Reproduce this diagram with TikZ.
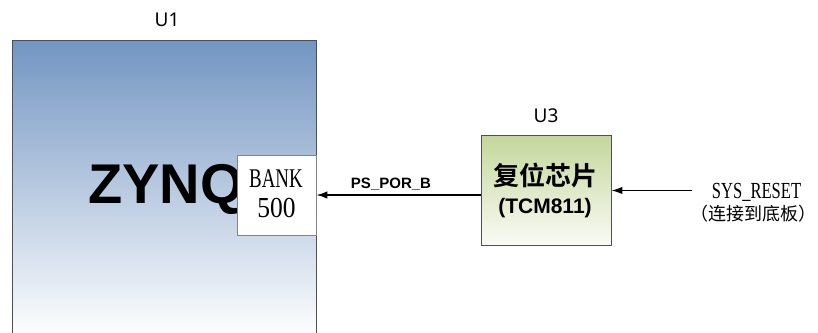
\documentclass[tikz,border=0pt]{standalone}
\usepackage{fontspec}
\setmainfont{Liberation Serif}
\setsansfont{Liberation Sans}
\newfontfamily\cjkfont{Noto Sans CJK SC}[BoldFont={* Bold}]
\newfontfamily\lblfont{Noto Sans}
\usetikzlibrary{positioning,arrows.meta}
\definecolor{zynqtop}{RGB}{114,149,194}
\definecolor{resettop}{RGB}{196,215,155}
\definecolor{resetbot}{RGB}{250,251,245}
\definecolor{boxline}{RGB}{80,80,80}
\tikzstyle{chip}=[draw=boxline, line width=0.9pt, inner sep=0pt]
\tikzstyle{bank}=[draw=boxline!70, fill=white, line width=0.8pt, minimum width=79pt, minimum height=80pt, inner sep=0pt]
\tikzstyle{sig}=[->, line width=1.4pt]
\tikzstyle{lbl}=[font=\lblfont\fontsize{19}{19}\selectfont, inner sep=0pt]

\begin{document}
\begin{tikzpicture}[x=1pt,y=-1pt,>={Latex[length=11pt,width=7.5pt]}]
\useasboundingbox (0,0) rectangle (818,332);

\node[chip, top color=zynqtop, bottom color=white, minimum width=304pt, minimum height=298pt] at (164,189) (zynq) {};
\node[lbl] at (167,20) (u1) {U1};
\node[anchor=base west, inner sep=0pt, font=\sffamily\bfseries\fontsize{56}{56}\selectfont] at (88,203) (zynqtext) {ZYNQ};
\node[bank] at (276.5,195) (bank) {};
\node[anchor=base, inner sep=0pt, font=\fontsize{27}{27}\selectfont] at (276,187) (banktext) {\scalebox{0.7}[1]{BANK}};
\node[anchor=base, inner sep=0pt, font=\fontsize{29}{29}\selectfont] at (276.5,217) (banknum) {\scalebox{0.88}[1]{500}};

\node[chip, top color=resettop, bottom color=resetbot, minimum width=130pt, minimum height=110pt] at (546,190.5) (u3) {};
\node[lbl] at (546,116) (u3lbl) {U3};
\node[anchor=base, inner sep=0pt, font=\cjkfont\bfseries\fontsize{26}{26}\selectfont] at (545.5,185) (u3name) {复位芯片};
\node[anchor=base, inner sep=0pt, font=\sffamily\bfseries\fontsize{21}{21}\selectfont] at (545,213) (u3part) {(TCM811)};

\draw[sig] (u3.west |- bank.east) -- (bank.east);
\node[anchor=base, inner sep=0pt, font=\sffamily\bfseries\fontsize{15}{15}\selectfont] at (391,188) (porb) {PS\_POR\_B};

\coordinate (sysin) at (692,190.5);
\draw[sig] (sysin) -- (u3.east);
\node[anchor=base, inner sep=0pt, font=\fontsize{23}{23}\selectfont] at (756.5,198) (sysreset) {\scalebox{0.72}[1]{SYS\_RESET}};
\node[anchor=base, inner sep=0pt, font=\cjkfont\fontsize{18}{18}\selectfont] at (753.5,220) (sysnote) {（连接到底板）};
\end{tikzpicture}
\end{document}
